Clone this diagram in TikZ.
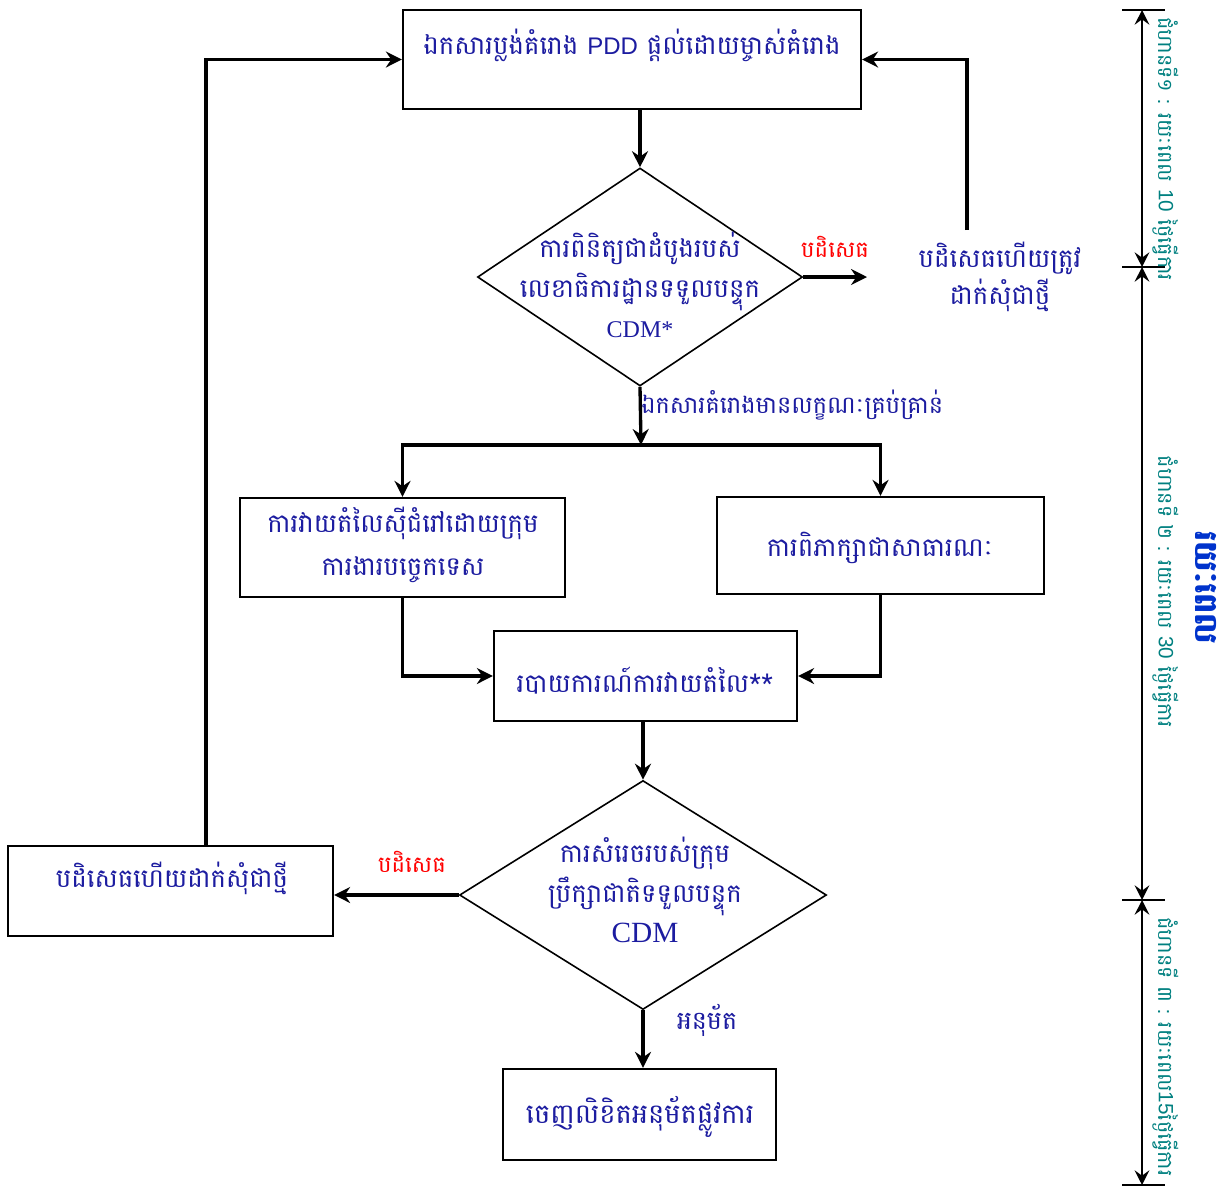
\documentclass[tikz,border=0pt]{standalone}
\usepackage{fontspec}
\usetikzlibrary{arrows.meta,shapes.geometric}
\newfontfamily\kh[Script=Khmer]{Battambang}
\newfontfamily\lsans{Liberation Sans}
\newfontfamily\lserif{Liberation Serif}
\definecolor{ink}{RGB}{28,28,160}
\definecolor{nogo}{RGB}{255,0,0}
\definecolor{stage}{RGB}{0,128,128}
\definecolor{total}{RGB}{0,51,204}

\tikzset{
  box/.style={draw, line width=1.7pt, rectangle, inner sep=0pt},
  choice/.style={draw, line width=1.2pt, diamond, inner sep=0pt},
  txt/.style={text=ink, font=\kh\fontsize{19.5}{30}\selectfont, align=center, inner sep=0pt},
  small/.style={text=ink, font=\kh\fontsize{18}{26}\selectfont, inner sep=0pt},
  nolabel/.style={text=nogo, font=\kh\fontsize{17}{26}\selectfont, inner sep=0pt},
  steplabel/.style={text=stage, font=\kh\fontsize{15.5}{24}\selectfont, rotate=-90, inner sep=0pt},
  flow/.style={line width=2.5pt, -{Stealth[length=12pt,width=12pt,inset=4pt]}},
  dim/.style={line width=1.5pt, {Stealth[length=11pt,width=11pt,inset=4pt]}-{Stealth[length=11pt,width=11pt,inset=4pt]}},
  tick/.style={line width=1.5pt}
}

\begin{document}
\begin{tikzpicture}[x=0.75pt,y=-0.75pt]
\useasboundingbox (0,0) rectangle (1224,1190);

% boxes and decisions
\node[box, minimum width=343.5pt, minimum height=74.25pt] (top) at (632,59.5) {};
\node[choice, minimum width=243.75pt, minimum height=163.5pt] (d1) at (640,277) {};
\node[box, minimum width=243.75pt, minimum height=74.25pt] (tech) at (402.5,547.5) {};
\node[box, minimum width=245.25pt, minimum height=72.75pt] (pub) at (880.5,545.5) {};
\node[box, minimum width=227.25pt, minimum height=67.5pt] (report) at (645.5,676) {};
\node[choice, minimum width=275.25pt, minimum height=171.75pt] (d2) at (643,895) {};
\node[box, minimum width=243.75pt, minimum height=67.5pt] (rej2) at (170.5,891) {};
\node[box, minimum width=204.75pt, minimum height=68.25pt] (final) at (639.5,1114.5) {};

% texts
\node[txt] (ttop) at (632,45) {ឯកសារប្លង់គំរោង {\lsans\fontsize{18}{30}\selectfont PDD} ផ្តល់ដោយម្ចាស់គំរោង};
\node[txt] (td1) at (640,285) {ការពិនិត្យជាដំបូងរបស់\\លេខាធិការដ្ឋានទទួលបន្ទុក\\{\lserif\fontsize{18}{30}\selectfont CDM*}};
\node[nolabel] (no1) at (835,247) {បដិសេធ};
\node[txt] (rej1) at (1000,277) {បដិសេធហើយត្រូវ\\[-2pt]ដាក់សុំជាថ្មី};
\node[small, anchor=west] (okdoc) at (641,405) {ឯកសារគំរោងមានលក្ខណៈគ្រប់គ្រាន់};
\node[txt] (ttech) at (403,545) {ការវាយតំលៃស៊ីជំរៅដោយក្រុម\\[2pt]ការងារបច្ចេកទេស};
\node[txt] (tpub) at (880,548) {ការពិភាក្សាជាសាធារណៈ};
\node[txt] (trep) at (645,681) {របាយការណ៍ការវាយតំលៃ**};
\node[txt] (td2) at (645,890) {ការសំរេចរបស់ក្រុម\\ប្រឹក្សាជាតិទទួលបន្ទុក\\{\lserif\fontsize{22}{30}\selectfont CDM}};
\node[nolabel] (no2) at (412,862) {បដិសេធ};
\node[txt] (trej2) at (172,878) {បដិសេធហើយដាក់សុំជាថ្មី};
\node[small, font=\kh\fontsize{19}{26}\selectfont] (yes) at (707,1020) {អនុម័ត};
\node[txt, font=\kh\fontsize{20.5}{30}\selectfont] (tfin) at (640,1117) {ចេញលិខិតអនុម័តផ្លូវការ};

% connectors
\coordinate (out1) at (867,277);
\coordinate (back1) at (967,230);
\coordinate (split) at (641,445);
\coordinate (back2) at (206,846);

\draw[flow] (d1.north |- top.south) -- (d1.north);
\draw[flow] (d1.east) -- (out1);
\draw[flow] (back1) |- (top.east);
\draw[flow] (d1.south) -- (split);
\draw[flow] (split) -| (tech.north);
\draw[flow] (split) -| (pub.north);
\draw[flow] (tech.south) |- (report.west);
\draw[flow] (pub.south) |- (report.east);
\draw[flow] (d2.north |- report.south) -- (d2.north);
\draw[flow] (d2.west) -- (d2.west -| rej2.east);
\draw[flow] (back2) |- (top.west);
\draw[flow] (d2.south) -- (d2.south |- final.north);

% time scale on the right
\coordinate (s0) at (1142,10);
\coordinate (s1) at (1142,267);
\coordinate (s2) at (1142,900);
\coordinate (s3) at (1142,1185);
\foreach \s in {s0,s1,s2,s3}{
  \draw[tick] ([xshift=-15pt]\s) -- ([xshift=17pt]\s);
}
\draw[dim] (s0) -- (s1);
\draw[dim] (s1) -- (s2);
\draw[dim] (s2) -- (s3);

\node[steplabel] (st1) at (1166,149) {ជំហានទី១ : រយៈពេល {\lsans 10} ថ្ងៃធ្វើការ};
\node[steplabel] (st2) at (1166,592) {ជំហានទី ២ : រយៈពេល {\lsans 30} ថ្ងៃធ្វើការ};
\node[steplabel] (st3) at (1166,1047) {ជំហានទី ៣ : រយៈពេល{\lsans 15}ថ្ងៃធ្វើការ};
\node[text=total, font=\kh\bfseries\fontsize{24}{28}\selectfont, rotate=-90, inner sep=0pt] (span) at (1206,588) {រយៈពេល};
\end{tikzpicture}
\end{document}
